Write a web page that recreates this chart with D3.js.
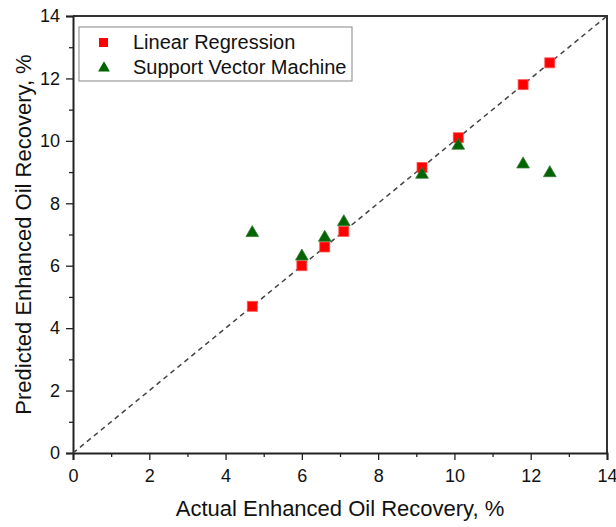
<!DOCTYPE html>
<html>
<head>
<meta charset="utf-8">
<script src="https://cdn.jsdelivr.net/npm/d3@7"></script>
<style>
  html, body { margin: 0; padding: 0; background: #fff; }
  svg { display: block; font-family: "Liberation Sans", Arial, sans-serif; }
</style>
</head>
<body>
<div id="chart"></div>
<script>
// data
const actual = [4.7, 6.0, 6.6, 7.1, 9.15, 10.1, 11.8, 12.5];
const linearPred = [4.7, 6.0, 6.6, 7.1, 9.15, 10.1, 11.8, 12.5];
const svmPred = [7.05, 6.3, 6.9, 7.4, 8.92, 9.85, 9.25, 8.97];
const ticks = [0, 2, 4, 6, 8, 10, 12, 14];
const minorTicks = [1, 3, 5, 7, 9, 11, 13];
const seriesNames = ['Linear Regression', 'Support Vector Machine'];

const width = 616, height = 527;
const margin = { top: 16, right: 9, bottom: 74, left: 73 };

const svg = d3.select('#chart').append('svg')
  .attr('width', width)
  .attr('height', height);

// scales -------------------------------------------------------------
const x = d3.scaleLinear().domain([0, 14]).range([margin.left, width - margin.right]);
const y = d3.scaleLinear().domain([0, 14]).range([height - margin.bottom, margin.top]);

// frame (top, right) -------------------------------------------------
svg.append('path')
  .attr('d', `M${x(0)},${y(14)}H${x(14)}V${y(0)}`)
  .attr('fill', 'none')
  .attr('stroke', '#333')
  .attr('stroke-width', 2);

// axes ---------------------------------------------------------------
svg.append('g')
  .attr('transform', `translate(0,${y(0)})`)
  .call(d3.axisBottom(x).tickValues(ticks).tickSize(7).tickPadding(9).tickFormat(d3.format('d')));
svg.append('g')
  .attr('transform', `translate(0,${y(0)})`)
  .call(d3.axisBottom(x).tickValues(minorTicks).tickSize(4).tickFormat(''))
  .call(g => g.select('.domain').remove());
svg.append('g')
  .attr('transform', `translate(${x(0)},0)`)
  .call(d3.axisLeft(y).tickValues(ticks).tickSize(7).tickPadding(6).tickFormat(d3.format('d')));
svg.append('g')
  .attr('transform', `translate(${x(0)},0)`)
  .call(d3.axisLeft(y).tickValues(minorTicks).tickSize(4).tickFormat(''))
  .call(g => g.select('.domain').remove());

svg.selectAll('.domain').attr('stroke', '#222').attr('stroke-width', 2);
svg.selectAll('.tick line').attr('stroke', '#222').attr('stroke-width', 1.3);
svg.selectAll('.tick text').attr('font-size', 18).attr('fill', '#111')
  .attr('font-family', '"Liberation Sans", Arial, sans-serif');

// axis titles
svg.append('text')
  .attr('x', (x(0) + x(14)) / 2)
  .attr('y', 516)
  .attr('text-anchor', 'middle')
  .attr('font-size', 22)
  .attr('fill', '#111')
  .text('Actual Enhanced Oil Recovery, %');
svg.append('text')
  .attr('transform', `translate(31,${(y(0) + y(14)) / 2}) rotate(-90)`)
  .attr('text-anchor', 'middle')
  .attr('font-size', 22)
  .attr('fill', '#111')
  .text('Predicted Enhanced Oil Recovery, %');

// 1:1 line
svg.append('line')
  .attr('x1', x(0)).attr('y1', y(0))
  .attr('x2', x(14)).attr('y2', y(14))
  .attr('stroke', '#444')
  .attr('stroke-width', 1.5)
  .attr('stroke-dasharray', '5,4');

// markers ------------------------------------------------------------
const sq = 10;
svg.selectAll('.lr')
  .data(actual.map((a, i) => ({ x: a, y: linearPred[i] })))
  .enter()
  .append('rect')
  .attr('class', 'lr')
  .attr('x', d => x(d.x) - sq / 2)
  .attr('y', d => y(d.y) - sq / 2)
  .attr('width', sq)
  .attr('height', sq)
  .attr('fill', '#f00')
  .attr('stroke', '#f55')
  .attr('stroke-width', 0.8);

const tri = d3.symbol().type(d3.symbolTriangle).size(70);
svg.selectAll('.svm')
  .data(actual.map((a, i) => ({ x: a, y: svmPred[i] })))
  .enter()
  .append('path')
  .attr('class', 'svm')
  .attr('d', tri)
  .attr('transform', d => `translate(${x(d.x)},${y(d.y)})`)
  .attr('fill', '#006400')
  .attr('stroke', '#3a7a3a')
  .attr('stroke-width', 0.8);

// legend -------------------------------------------------------------
const legend = svg.append('g').attr('transform', 'translate(79,27)');
legend.append('rect')
  .attr('width', 273)
  .attr('height', 54)
  .attr('fill', '#fff')
  .attr('stroke', '#999')
  .attr('stroke-width', 1.2);
const rows = legend.selectAll('.row')
  .data(seriesNames)
  .enter()
  .append('g')
  .attr('transform', (d, i) => `translate(0,${15 + i * 25})`);
rows.filter((d, i) => i === 0).append('rect')
  .attr('x', 20).attr('y', -4).attr('width', 9).attr('height', 9)
  .attr('fill', '#f00');
rows.filter((d, i) => i === 1).append('path')
  .attr('d', d3.symbol().type(d3.symbolTriangle).size(60))
  .attr('transform', 'translate(25,1)')
  .attr('fill', '#006400');
rows.append('text')
  .attr('x', 54)
  .attr('y', 7)
  .attr('font-size', 20)
  .attr('fill', '#111')
  .text(d => d);
</script>
</body>
</html>
